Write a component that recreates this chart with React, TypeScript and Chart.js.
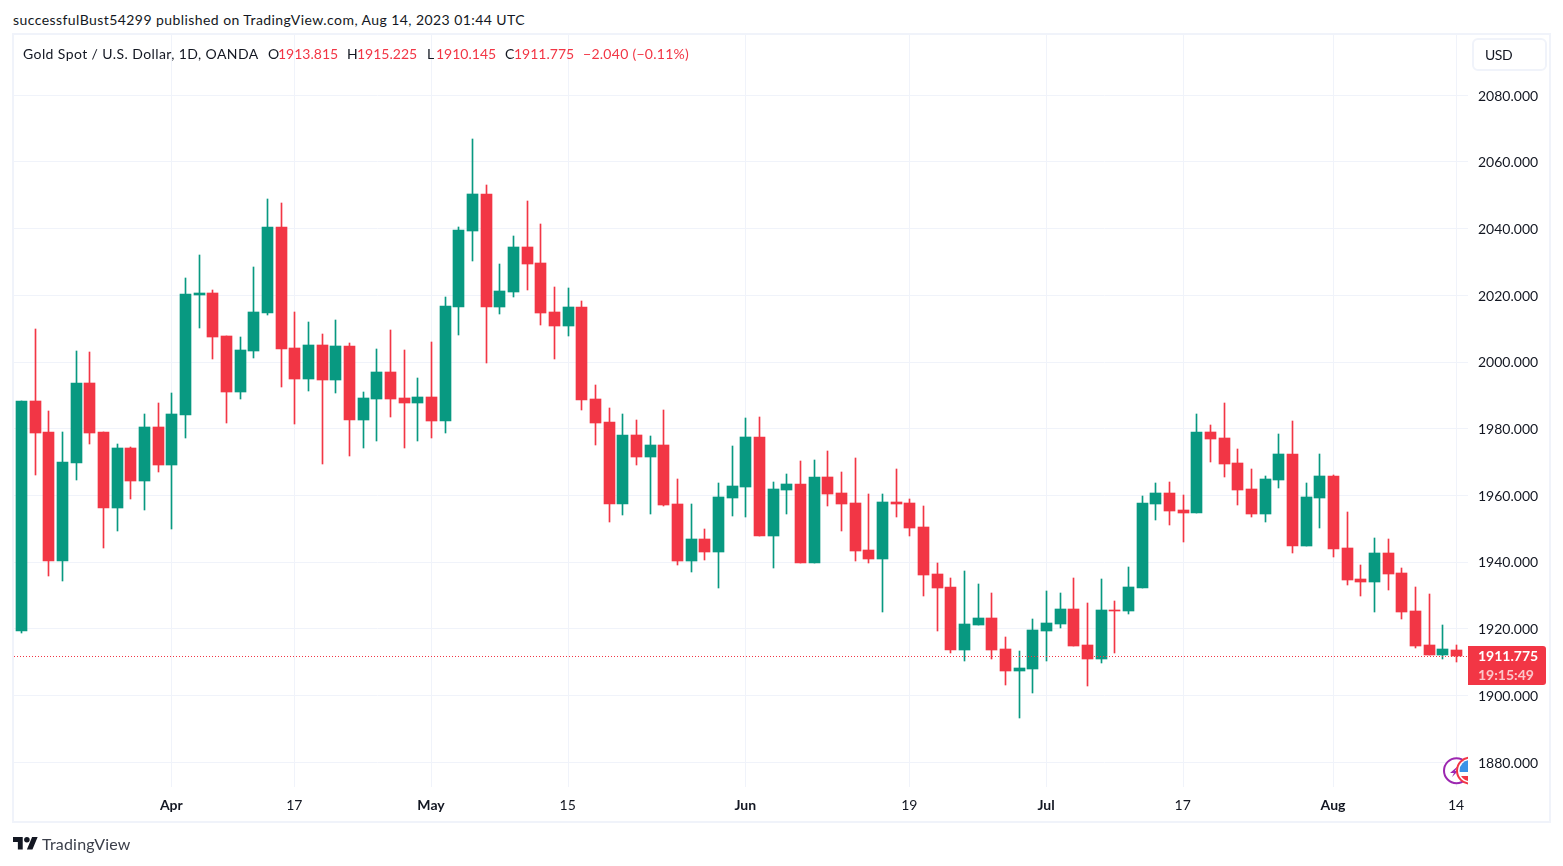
import React, { useEffect, useRef } from "react";
import { Chart, registerables } from "chart.js";

Chart.register(...registerables);

const opens = [1919.4,1988.4,1979.1,1940.4,1969.8,1993.8,1979.1,1956.3,1974.3,1964.4,1980.6,1969.2,1984.2,2020.2,2020.8,2007.9,1991.1,2003.4,2014.8,2040.6,2004.3,1995.0,2005.2,1994.7,2004.9,1982.7,1989.0,1997.1,1989.3,1987.8,1989.6,1982.4,2016.6,2039.4,2050.5,2016.6,2021.1,2034.6,2029.8,2015.1,2010.9,2016.6,1989.0,1982.1,1957.5,1978.2,1971.6,1975.2,1957.5,1940.4,1947.0,1943.1,1959.3,1962.6,1977.6,1947.9,1961.7,1963.5,1939.8,1965.6,1960.8,1957.8,1943.7,1941.0,1958.1,1957.8,1950.6,1936.5,1932.6,1913.7,1921.2,1923.3,1914.0,1907.4,1908.0,1919.4,1921.5,1926.0,1915.2,1911.0,1925.7,1925.4,1932.3,1957.5,1960.8,1955.7,1954.8,1979.1,1977.3,1969.8,1962.0,1954.5,1964.7,1972.5,1944.9,1959.3,1965.9,1944.3,1935.0,1934.1,1942.8,1936.8,1925.4,1915.2,1912.2,1913.815];
const highs = [1988.4,2010.0,1985.4,1979.1,2003.4,2003.1,1979.1,1975.5,1974.6,1984.5,1987.8,1990.8,2025.3,2032.2,2021.7,2007.9,2007.6,2028.6,2049.0,2047.8,2015.1,2012.1,2008.5,2012.7,2005.8,1991.1,2004.0,2009.7,2003.7,1995.3,2006.1,2019.6,2040.6,2067.0,2053.2,2029.5,2037.9,2048.4,2041.5,2022.6,2022.3,2018.4,1993.2,1986.3,1984.5,1982.7,1977.9,1985.7,1965.0,1957.5,1950.0,1963.8,1974.9,1983.3,1983.6,1964.1,1966.5,1970.4,1970.7,1973.4,1967.1,1971.3,1960.5,1960.5,1968.0,1959.0,1956.9,1939.8,1935.3,1937.4,1933.5,1930.8,1917.6,1913.4,1923.0,1931.4,1930.8,1935.3,1927.8,1935.0,1928.4,1938.6,1959.9,1963.8,1964.1,1960.2,1984.5,1981.2,1987.8,1974.0,1968.0,1965.9,1978.5,1982.4,1963.8,1972.5,1966.2,1955.1,1939.2,1947.3,1947.0,1938.3,1932.6,1930.5,1921.2,1915.225];
const lows = [1918.8,1966.2,1935.9,1934.4,1964.7,1975.5,1944.3,1949.4,1959.0,1955.7,1967.1,1950.0,1977.3,2010.3,2001.0,1981.8,1989.0,2001.3,2014.2,1992.6,1981.5,1991.4,1969.5,1990.8,1971.9,1974.3,1976.4,1983.6,1974.3,1976.4,1977.3,1978.8,2008.2,2030.4,1999.8,2014.5,2019.6,2021.7,2011.2,2001.0,2007.9,1985.7,1975.2,1952.1,1954.2,1969.2,1954.5,1956.9,1939.2,1937.1,1940.7,1932.3,1953.9,1953.6,1947.9,1938.3,1954.5,1939.8,1939.8,1956.9,1949.4,1940.4,1939.8,1925.1,1953.6,1947.9,1929.9,1919.4,1912.8,1910.4,1921.2,1911.0,1903.2,1893.3,1900.8,1910.4,1920.3,1914.9,1902.9,1909.8,1912.8,1924.5,1932.3,1952.7,1951.2,1946.1,1954.8,1970.1,1965.6,1957.2,1953.6,1952.1,1962.3,1942.8,1944.9,1950.3,1941.6,1933.2,1929.9,1925.1,1931.7,1923.0,1914.3,1912.2,1911.0,1910.145];
const closes = [1988.4,1978.8,1940.4,1970.1,1993.8,1978.8,1956.3,1974.3,1964.4,1980.6,1969.2,1984.5,2020.5,2020.8,2007.6,1991.1,2003.7,2015.1,2040.6,2004.0,1995.0,2005.2,1994.7,2004.9,1982.7,1989.3,1997.1,1989.0,1987.8,1989.6,1982.4,2016.9,2039.7,2050.5,2016.6,2021.4,2034.6,2029.5,2014.8,2010.9,2016.6,1988.7,1981.8,1957.5,1978.2,1971.6,1975.2,1957.2,1940.4,1947.0,1943.1,1959.6,1962.9,1977.6,1947.9,1962.0,1963.5,1939.8,1965.6,1960.5,1957.5,1943.4,1941.0,1958.1,1957.5,1950.3,1936.2,1932.3,1913.7,1921.5,1923.3,1913.7,1907.4,1908.3,1919.7,1921.8,1926.0,1914.9,1911.0,1925.7,1925.4,1932.6,1957.8,1960.8,1955.4,1954.8,1979.1,1977.0,1969.5,1961.7,1954.5,1965.0,1972.5,1944.9,1959.6,1965.9,1944.0,1934.7,1934.1,1942.8,1936.5,1925.1,1914.9,1912.2,1914.0,1911.775];

const priceTicks = [1880,1900,1920,1940,1960,1980,2000,2020,2040,2060,2080];
const timeTickIndex = [11,20,30,40,53,65,75,85,96,105];
const timeTickLabels = ["Apr","17","May","15","Jun","19","Jul","17","Aug","14"];
const boldTimeLabels = ["Apr","May","Jun","Jul","Aug"];

const header = "successfulBust54299 published on TradingView.com, Aug 14, 2023 01:44 UTC";
const symbolTitle = "Gold Spot / U.S. Dollar, 1D, OANDA";

const UP = "#089981";
const DOWN = "#F23645";
const INK = "#131722";
const GRID = "#F0F3FA";
const FONT = "Lato";
const X_MIN = -0.5488;
const X_MAX = 105.84;

const lastClose = closes[closes.length - 1];
const colors = closes.map((c, i) => (c >= opens[i] ? UP : DOWN));

const abs = (left: number, top: number, extra: React.CSSProperties = {}): React.CSSProperties => ({
  position: "absolute",
  left,
  top,
  lineHeight: "20px",
  fontSize: 14,
  whiteSpace: "nowrap",
  color: INK,
  ...extra,
});

// Snap the library's computed bar and line geometry to whole device pixels, so candles stay crisp.
const pixelSnap = {
  id: "pixelSnap",
  afterDatasetsUpdate(chart: any) {
    chart.getSortedVisibleDatasetMetas().forEach((meta: any) => {
      meta.data.forEach((el: any) => {
        if (meta.type === "bar") {
          el.x = Math.floor(el.x) + 0.5;
          el.y = Math.round(el.y);
          el.base = Math.round(el.base);
        } else {
          el.y = Math.floor(el.y) + 0.5;
        }
      });
    });
  },
};

export default function App() {
  const ref = useRef<HTMLCanvasElement | null>(null);

  useEffect(() => {
    const chart = new Chart(ref.current as HTMLCanvasElement, {
      type: "bar",
      plugins: [pixelSnap],
      data: {
        datasets: [
          {
            type: "line",
            data: [
              { x: X_MIN, y: lastClose },
              { x: X_MAX, y: lastClose },
            ],
            borderColor: DOWN,
            borderWidth: 1,
            borderDash: [1, 2],
            pointRadius: 0,
            order: 0,
          },
          {
            data: opens.map((o, i) => ({ x: i, y: [o, closes[i]] })),
            backgroundColor: colors,
            barThickness: 11,
            grouped: false,
            order: 1,
          },
          {
            data: lows.map((l, i) => ({ x: i, y: [l, highs[i]] })),
            backgroundColor: colors,
            barThickness: 1,
            grouped: false,
            order: 2,
          },
        ],
      } as any,
      options: {
        animation: false,
        responsive: false,
        devicePixelRatio: 1,
        layout: { padding: { left: 14, top: 35, right: 12, bottom: 44 } },
        plugins: { legend: { display: false }, tooltip: { enabled: false } },
        scales: {
          x: {
            type: "linear",
            min: X_MIN,
            max: X_MAX,
            offset: false,
            border: { display: false },
            grid: { color: GRID, offset: false, drawTicks: false },
            afterBuildTicks: (s: any) => {
              s.ticks = timeTickIndex.map((value) => ({ value }));
            },
            afterFit: (s: any) => {
              s.height = 35;
            },
            ticks: {
              autoSkip: false,
              maxRotation: 0,
              padding: 10,
              labelOffset: -0.5,
              color: INK,
              callback: (_v: any, i: number) => timeTickLabels[i],
              font: (ctx: any) => ({
                family: FONT,
                size: 14,
                weight: boldTimeLabels.includes(timeTickLabels[ctx.index]) ? "bold" : "normal",
              }),
            },
          },
          y: {
            type: "linear",
            position: "right",
            min: 1872.59,
            max: 2098.08,
            border: { display: false },
            grid: { color: GRID, drawTicks: false },
            afterBuildTicks: (s: any) => {
              s.ticks = priceTicks.map((value) => ({ value }));
            },
            afterFit: (s: any) => {
              s.width = 83;
            },
            ticks: {
              padding: 10,
              labelOffset: 0.7,
              color: INK,
              autoSkip: false,
              callback: (v: any) => Number(v).toFixed(3),
              font: { family: FONT, size: 14 },
            },
          },
        },
      } as any,
    });
    return () => chart.destroy();
  }, []);

  return (
    <div style={{ position: "absolute", left: 0, top: 0, width: 1563, height: 866, fontFamily: FONT, background: "#fff", overflow: "hidden" }}>
      <div style={abs(13, 10, { letterSpacing: 0.43 })}>{header}</div>
      <div style={{ position: "absolute", left: 12, top: 33, width: 1535, height: 786, border: `2px solid ${GRID}` }} />
      <canvas ref={ref} width={1563} height={866} style={{ position: "absolute", left: 0, top: 0, display: "block" }} />

      <div style={abs(23, 44, { letterSpacing: 0.41 })}>{symbolTitle}</div>
      <div style={abs(268, 44)}>O</div>
      <div style={abs(278, 44, { color: DOWN })}>1913.815</div>
      <div style={abs(347, 44)}>H</div>
      <div style={abs(357, 44, { color: DOWN })}>1915.225</div>
      <div style={abs(427, 44)}>L</div>
      <div style={abs(436, 44, { color: DOWN })}>1910.145</div>
      <div style={abs(505, 44)}>C</div>
      <div style={abs(514, 44, { color: DOWN })}>1911.775</div>
      <div style={abs(583, 44, { color: DOWN, letterSpacing: 0.27 })}>−2.040 (−0.11%)</div>

      <div style={{ position: "absolute", left: 1472, top: 38, width: 71, height: 29, border: `2px solid ${GRID}`, borderRadius: 6 }} />
      <div style={abs(1485, 45, { letterSpacing: -0.5 })}>USD</div>

      <div style={{ position: "absolute", left: 1468, top: 646, width: 78, height: 39, background: DOWN, borderRadius: "0 3px 3px 0" }} />
      <div style={abs(1478, 646, { color: "#fff", fontWeight: 700 })}>1911.775</div>
      <div style={abs(1478, 665, { color: "rgba(255,255,255,0.72)", fontWeight: 700 })}>19:15:49</div>

      <svg width={40} height={34} style={{ position: "absolute", left: 1428, top: 754, display: "block" }} viewBox="0 0 40 34">
        <defs>
          <clipPath id="flagDisc">
            <circle cx={42} cy={16.7} r={10.5} />
          </clipPath>
        </defs>
        <circle cx={28.5} cy={16.7} r={12.5} fill="#fff" stroke="#9C27B0" strokeWidth={2} />
        <path d="M30 12 L22 19 L26 19 L24 23 L30 17 L27 17 Z" fill="#9C27B0" />
        <circle cx={42} cy={16.7} r={13} fill="#fff" stroke="#F23645" strokeWidth={2} />
        <g clipPath="url(#flagDisc)">
          <rect x={30} y={6} width={12} height={12} fill="#3C92E6" />
          <rect x={30} y={22} width={12} height={6} fill="#F23645" />
        </g>
      </svg>

      <svg width={25} height={20} viewBox="0 0 36 28" style={{ position: "absolute", left: 12.5, top: 834, display: "block" }} fill={INK}>
        <path d="M14 22H7V11H0V4h14v18zM28 22h-8l7.5-18h8L28 22z" />
        <circle cx={20} cy={8} r={4} />
      </svg>
      <div style={abs(42, 834, { fontSize: 16, color: "#3b3f4a", letterSpacing: 0.2 })}>TradingView</div>
    </div>
  );
}
